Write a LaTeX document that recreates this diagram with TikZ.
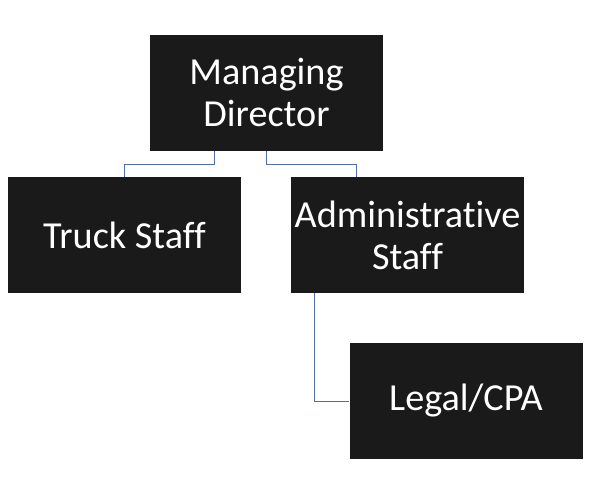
\documentclass[tikz,border=0pt]{standalone}
\usepackage{fontspec}
\setmainfont{Carlito}[Ligatures=NoCommon]
\definecolor{boxfill}{HTML}{1A1A1A}
\definecolor{linecol}{HTML}{4F6EA3}
\begin{document}
\begin{tikzpicture}[x=1pt,y=-1pt,
  box/.style={fill=boxfill, draw=none, minimum width=233pt, minimum height=116pt,
    text=white, align=center, font=\fontsize{38.2}{42}\selectfont, inner sep=0pt},
  conn/.style={draw=linecol, line width=0.9pt}]
\useasboundingbox (0,0) rectangle (596,478);
\node[box] (md) at (266.5,93) {Managing\\Director};
\node[box] (ts) at (124.5,235) {Truck Staff};
\node[box] (as) at (407.5,235) {Administrative\\Staff};
\node[box] (lc) at (466,401) {Legal/CPA};
\draw[conn] ([xshift=-52.5pt]md.south) -- ++(0,13) -| (ts.north);
\draw[conn] ([xshift=-0.5pt]md.south) -- ++(0,13) -| ([xshift=-51.5pt]as.north);
\draw[conn] ([xshift=-93pt]as.south) |- (lc.west);
\end{tikzpicture}
\end{document}
